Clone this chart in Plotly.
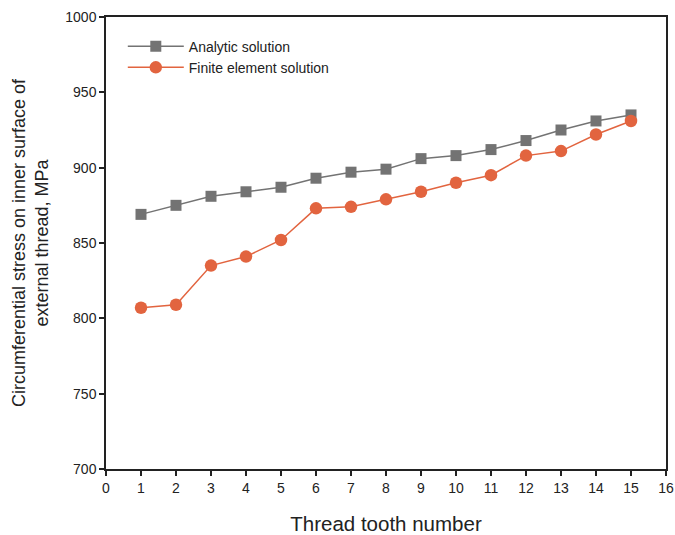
import plotly.graph_objects as go

teeth = list(range(1, 16))
analytic = [869, 875, 881, 884, 887, 893, 897, 899, 906, 908, 912, 918, 925, 931, 935]
fem = [807, 809, 835, 841, 852, 873, 874, 879, 884, 890, 895, 908, 911, 922, 931]

gray = "#737373"
orange = "#E2643F"

fig = go.Figure()
fig.add_trace(go.Scatter(x=teeth, y=analytic, mode="lines+markers", name="Analytic solution",
                         line=dict(color=gray, width=1.5),
                         marker=dict(symbol="square", size=11, color=gray)))
fig.add_trace(go.Scatter(x=teeth, y=fem, mode="lines+markers", name="Finite element solution",
                         line=dict(color=orange, width=1.5),
                         marker=dict(symbol="circle", size=12.5, color=orange)))

axis_common = dict(showline=True, linecolor="#222", linewidth=1.5, mirror=True,
                   ticks="outside", ticklen=5, tickcolor="#222", tickwidth=1.5,
                   showgrid=False, zeroline=False, automargin=False,
                   tickfont=dict(family="Liberation Sans, Arial", size=14, color="#222"))

fig.update_layout(
    width=675, height=535,
    margin=dict(l=106, r=9, t=17, b=66),
    paper_bgcolor="white", plot_bgcolor="white",
    font=dict(family="Liberation Sans, Arial", color="#222"),
    xaxis=dict(range=[0, 16], dtick=1, tick0=0, ticklabeloverflow="allow",
               title=dict(text="Thread tooth number", font=dict(size=20.5), standoff=22),
               **axis_common),
    yaxis=dict(range=[700, 1000], dtick=50, tick0=700,
               title=dict(text="Circumferential stress on inner surface of<br>external thread, MPa",
                          font=dict(size=18), standoff=12),
               **axis_common),
    legend=dict(x=0.03, y=0.97, xanchor="left", yanchor="top",
                bgcolor="rgba(0,0,0,0)", font=dict(size=14), tracegroupgap=0,
                itemwidth=56),
    showlegend=True,
)

fig.write_html("out.html")
